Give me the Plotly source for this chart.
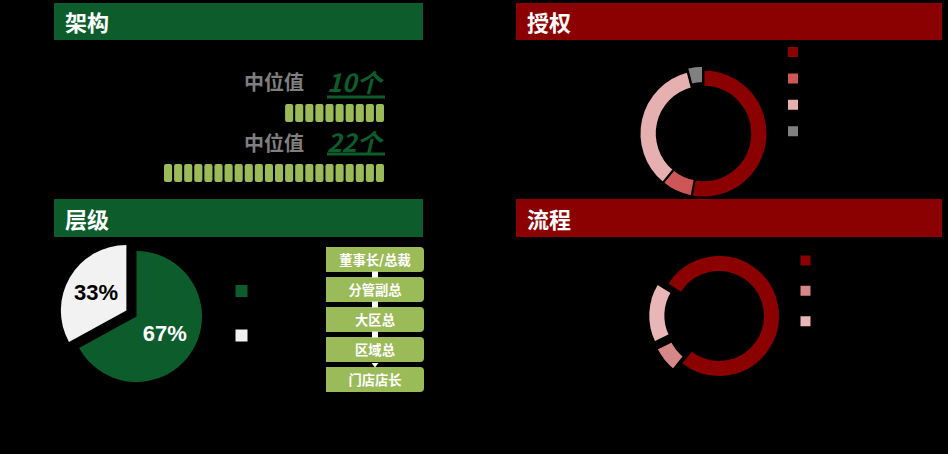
import plotly.graph_objects as go

W, H = 948, 454

# ---- data ----
section_titles = ["架构", "授权", "层级", "流程"]
median_label = "中位值"
median_counts = [10, 22]

level_labels = ["5级", "4级"]
level_shares = [67, 33]
level_chain = ["董事长/总裁", "分管副总", "大区总", "区域总", "门店店长"]

auth_labels = ["集中审批", "分级授权", "充分授权", "其他"]
auth_shares = [53, 8, 35, 4]

flow_labels = ["已梳理", "部分梳理", "未梳理"]
flow_shares = [77, 7, 16]

GREEN = "#0C5C2C"
RED = "#8B0000"
LEAF = "#9BBB59"
GREY = "#7F7F7F"
CJK = "Noto Sans CJK SC"


def px(x):
    return x / W


def py(y):
    return 1 - y / H


def dom_x(x0, x1):
    return [x0 / W, x1 / W]


def dom_y(y0, y1):
    return [1 - y1 / H, 1 - y0 / H]


def pie_domain(cx, cy, r, pull):
    half = r * (1 + pull)
    return {"x": dom_x(cx - half, cx + half), "y": dom_y(cy - half, cy + half)}


fig = go.Figure()

# ---- 架构: block rows ----
max_n = max(median_counts)
row_bases = [3.333, 0]
for n, base in zip(median_counts, row_bases):
    fig.add_trace(go.Bar(
        x=list(range(max_n - n, max_n)), y=[1] * n, base=base, width=0.8,
        marker={"color": LEAF, "cornerradius": 2, "line": {"width": 0}},
        xaxis="x", yaxis="y", showlegend=False, hoverinfo="skip",
    ))

# ---- 层级: chain of levels ----
fig.add_trace(go.Bar(
    y=list(range(len(level_chain))), x=[1] * len(level_chain), orientation="h", width=0.833,
    marker={"color": LEAF, "cornerradius": 4, "line": {"width": 0}},
    text=level_chain, textposition="inside", insidetextanchor="middle",
    textfont={"color": "white", "size": 14, "family": CJK, "weight": "bold"},
    xaxis="x2", yaxis="y2", showlegend=False, hoverinfo="skip",
))
n_links = len(level_chain) - 1
fig.add_trace(go.Scatter(
    x=[0.5] * n_links, y=[i + 0.5 for i in range(n_links)], mode="markers",
    marker={"symbol": ["square"] * (n_links - 1) + ["triangle-down"], "size": 6, "color": "white"},
    xaxis="x2", yaxis="y2", showlegend=False, hoverinfo="skip",
))

# ---- 层级 pie ----
fig.add_trace(go.Pie(
    labels=level_labels, values=level_shares, sort=False, direction="clockwise",
    marker={"colors": [GREEN, "#F2F2F2"], "line": {"width": 0}},
    pull=[0, 0.18], texttemplate="%{value}%", textposition="inside",
    insidetextorientation="horizontal",
    textfont={"color": ["white", "black"], "size": 22, "family": "Liberation Sans, Arial",
              "weight": "bold"},
    domain=pie_domain(136.5, 316.5, 65.5, 0.18), legend="legend", hoverinfo="skip",
))

# ---- 授权 donut ----
fig.add_trace(go.Pie(
    labels=auth_labels, values=auth_shares, sort=False, direction="clockwise", hole=0.73,
    marker={"colors": [RED, "#CD5656", "#E6B0B0", "#808080"], "line": {"color": "black", "width": 2}},
    pull=[0, 0, 0, 0.06], texttemplate="%{value}%", textposition="outside",
    textfont={"color": "black", "size": 16, "family": "Liberation Sans, Arial", "weight": "bold"},
    domain=pie_domain(703.5, 133.5, 64, 0.06), legend="legend2", hoverinfo="skip",
))

# ---- 流程 donut ----
fig.add_trace(go.Pie(
    labels=flow_labels, values=flow_shares, sort=False, direction="clockwise", hole=0.72,
    rotation=-58.5,
    marker={"colors": [RED, "#D68888", "#E8B6B6"], "line": {"color": "black", "width": 2}},
    pull=[0, 0.16, 0.16], texttemplate="%{value}%", textposition="outside",
    textfont={"color": "black", "size": 16, "family": "Liberation Sans, Arial", "weight": "bold"},
    domain=pie_domain(719, 316, 61, 0.16), legend="legend3", hoverinfo="skip",
))

# ---- section headers ----
headers = [(54, 423, 3, 40, GREEN), (516, 942, 3, 40, RED),
           (54, 423, 199, 237, GREEN), (516, 942, 199, 237, RED)]
shapes = []
annotations = []
for (x0, x1, y0, y1, col), title in zip(headers, section_titles):
    shapes.append(dict(type="rect", xref="paper", yref="paper", x0=px(x0), x1=px(x1),
                       y0=py(y1), y1=py(y0), fillcolor=col, line={"width": 0}, layer="above"))
    annotations.append(dict(text=title, xref="paper", yref="paper", x=px(x0 + 9),
                            y=py((y0 + y1) / 2), xanchor="left", yanchor="middle", showarrow=False,
                            font={"color": "white", "size": 22, "family": CJK, "weight": "bold"}))

# ---- 中位值 labels ----
for n, yc, yu in zip(median_counts, [82, 142], [97, 154]):
    annotations.append(dict(text=median_label, xref="paper", yref="paper", x=px(306), y=py(yc),
                            xanchor="right", yanchor="middle", showarrow=False,
                            font={"color": GREY, "size": 20, "family": CJK, "weight": "bold"}))
    annotations.append(dict(text=f"<i>{n}个</i>", xref="paper", yref="paper", x=px(325), y=py(yc - 1),
                            xanchor="left", yanchor="middle", showarrow=False,
                            font={"color": GREEN, "size": 25, "family": CJK, "weight": "bold"}))
    shapes.append(dict(type="line", xref="paper", yref="paper", x0=px(327), x1=px(385),
                       y0=py(yu), y1=py(yu), line={"color": GREEN, "width": 3}))

hidden = dict(visible=False, fixedrange=True)
legend_common = dict(bgcolor="rgba(0,0,0,0)", xanchor="left", yanchor="top",
                     orientation="v", itemclick=False, itemdoubleclick=False)

fig.update_layout(
    width=W, height=H,
    margin={"l": 0, "r": 0, "t": 0, "b": 0},
    paper_bgcolor="black", plot_bgcolor="black",
    barmode="overlay",
    xaxis=dict(domain=dom_x(163, 385), range=[-0.5, 21.5], **hidden),
    yaxis=dict(domain=dom_y(100, 182), range=[0, 82 / 18], **hidden),
    xaxis2=dict(domain=dom_x(326, 424), range=[0, 1], **hidden),
    yaxis2=dict(domain=dom_y(244.5, 394.5), range=[4.5, -0.5], **hidden),
    legend=dict(x=px(221.5), y=py(263.7), font={"color": "black", "size": 32, "family": CJK},
                **legend_common),
    legend2=dict(x=px(773), y=py(33.8), font={"color": "black", "size": 18, "family": CJK},
                 **legend_common),
    legend3=dict(x=px(785.5), y=py(240.4), font={"color": "black", "size": 21, "family": CJK},
                 **legend_common),
    shapes=shapes,
    annotations=annotations,
    showlegend=True,
)

fig.write_html(
    "out.html",
    config={"displayModeBar": False},
    post_script="document.body.style.margin='0';document.body.style.overflow='hidden';",
)
